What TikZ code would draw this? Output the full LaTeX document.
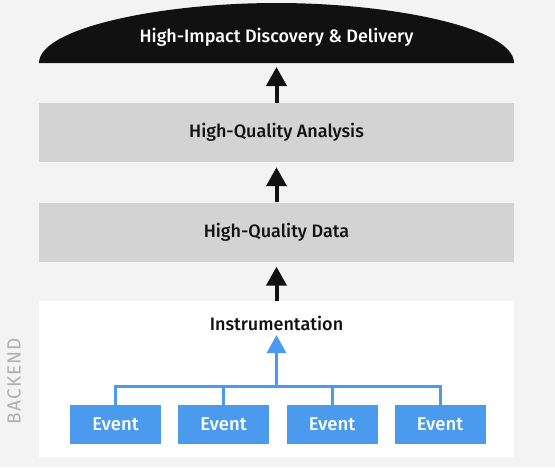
\documentclass[tikz,border=0pt]{standalone}
\usepackage{fontspec}
\setmainfont{Fira Sans}[UprightFont={* Medium}]
\newfontfamily\spacedfont{Fira Sans}[LetterSpace=6]
\usetikzlibrary{arrows.meta}
\definecolor{bg}{HTML}{F3F3F3}
\definecolor{band}{HTML}{D3D3D3}
\definecolor{ink}{HTML}{111111}
\definecolor{evblue}{HTML}{4A9AEE}
\definecolor{lab}{HTML}{B0B0B0}
\tikzset{
  mainfont/.style={font=\fontsize{18pt}{21pt}\selectfont},
  band/.style={fill=band, draw=none, minimum width=475pt, minimum height=59pt, inner sep=0pt, mainfont, text=ink},
  evbox/.style={fill=evblue, draw=none, minimum width=91pt, minimum height=39pt, inner sep=0pt, text=white, font=\fontsize{18.5pt}{21pt}\selectfont},
  uparrow/.style={ink, line width=4pt, -{Triangle[width=20pt,length=19pt]}},
  bluearrow/.style={evblue, line width=3pt, -{Triangle[width=19pt,length=18pt]}},
  blueline/.style={evblue, line width=3pt},
}
\begin{document}
\begin{tikzpicture}[x=1pt,y=-1pt]
\fill[bg] (0,0) rectangle (555,467);
\useasboundingbox (0,0) rectangle (555,467);
% dome
\fill[ink] (39,63) .. controls (39,28) and (160,3) .. (276.5,3) .. controls (393,3) and (514,28) .. (514,63) -- cycle;
\node[text=white, mainfont] (top) at (276.5,37) {High-Impact Discovery \& Delivery};
\coordinate (domebot) at (276.5,67);
% bands
\node[band] (ana) at (276.5,132.5) {High-Quality Analysis};
\node[band] (dat) at (276.5,232) {High-Quality Data};
% backend box
\node[fill=white, draw=none, minimum width=475pt, minimum height=156pt, inner sep=0pt] (back) at (276.5,379) {};
\node[text=ink, mainfont] (inst) at (276.5,323) {Instrumentation};
\node[rotate=90, text=lab, font=\spacedfont\fontsize{19pt}{21pt}\selectfont] (lbl) at (14,381) {BACKEND};
% arrows
\draw[uparrow] (ana.north -| domebot) -- (domebot);
\draw[uparrow] (dat.north) -- ([yshift=-5pt]ana.south);
\draw[uparrow] (back.north) -- ([yshift=-5pt]dat.south);
% events
\node[evbox] (e1) at (115.5,424.5) {Event};
\node[evbox] (e2) at (223.5,424.5) {Event};
\node[evbox] (e3) at (332,424.5) {Event};
\node[evbox] (e4) at (440,424.5) {Event};
\coordinate (hub) at (276.5,386);
\coordinate (tip) at (276.5,335);
\draw[blueline] (e1.north) -- (e1.north |- hub) -- (e4.north |- hub) -- (e4.north);
\draw[blueline] (e2.north) -- (e2.north |- hub);
\draw[blueline] (e3.north) -- (e3.north |- hub);
\draw[bluearrow] ([yshift=1.5pt]hub) -- (tip);
\end{tikzpicture}
\end{document}
